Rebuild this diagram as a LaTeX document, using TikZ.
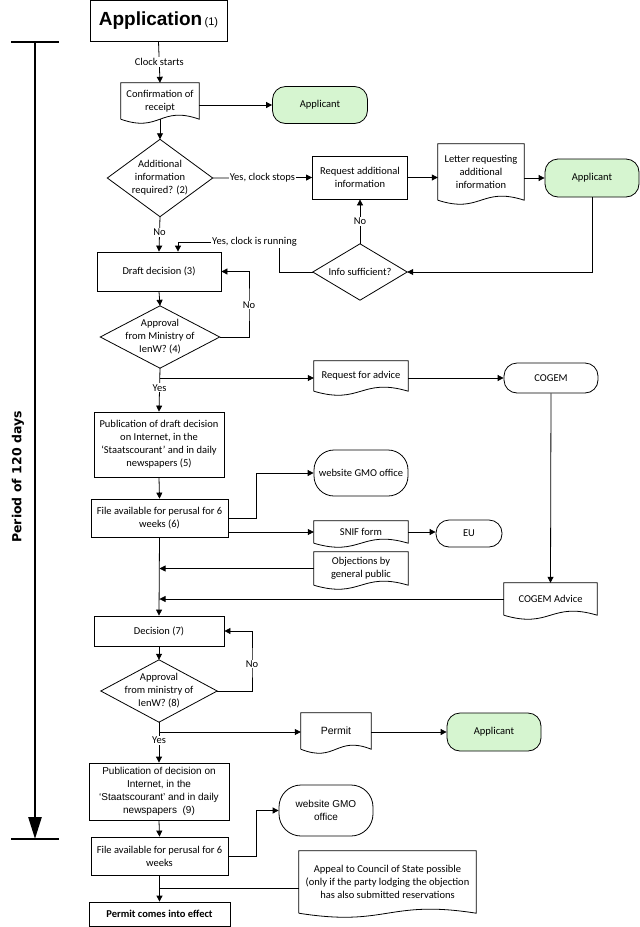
\documentclass[tikz,border=0pt]{standalone}
\usepackage{fontspec}
\setmainfont{Carlito}
\newfontfamily\arialf{Liberation Sans}
\newfontfamily\dejaf{DejaVu Sans}
\usetikzlibrary{arrows.meta,calc}
\definecolor{appgreen}{RGB}{214,245,208}
\newcommand\wdoc[1]{\draw[line width=0.8pt] (#1.south west) -- (#1.north west) -- (#1.north east) -- (#1.south east) .. controls ($(#1.south)+(0,-14)$) and ($(#1.south)+(0,14)$) .. (#1.south west);}
\newcommand\wdia[1]{\draw[line width=0.8pt] (#1.north) -- (#1.east) -- (#1.south) -- (#1.west) -- cycle;}
\begin{document}
\begin{tikzpicture}[x=1pt,y=-1pt,
  every node/.style={font=\fontsize{10.5}{13}\selectfont, align=center, inner sep=1pt},
  box/.style={draw, line width=0.8pt, minimum width=#1},
  term/.style={draw, line width=0.8pt, rounded corners=13pt},
  green/.style={fill=appgreen},
  plain/.style={draw=none},
  ar/.style={line width=0.8pt, -{Triangle[length=6pt,width=6pt]}},
  ln/.style={line width=0.8pt},
  lab/.style={fill=white, inner sep=1pt}]
\path[use as bounding box] (0,0) rectangle (640,927);
% period bar
\coordinate (bt) at (35,42); \coordinate (bb) at (35,839);
\draw[line width=2.5pt] (11,42) -- (59,42);
\draw[line width=2.5pt] (11,839) -- (59,839);
\draw[line width=2.5pt, -{Triangle[length=22pt,width=13pt]}] (bt) -- (bb);
\node[rotate=90, font=\dejaf\bfseries\fontsize{12.5}{14}\selectfont] (per) at (18,477) {Period of 120 days};
% nodes
\node[box, minimum width=137pt, minimum height=41pt] (app) at (158.5,20.5) {{\arialf\bfseries\fontsize{19}{22}\selectfont Application} {\arialf\fontsize{11}{13}\selectfont(1)}};
\node[plain, minimum width=78pt, minimum height=36pt] (conf) at (160,101) {Confirmation of\\receipt}; \wdoc{conf}
\node[term, green, minimum width=95pt, minimum height=37pt] (ap1) at (320,105) {Applicant};
\node[plain, minimum width=105pt, minimum height=77pt] (d1) at (160,178) {Additional\\information\\required? (2)}; \wdia{d1}
\node[box=95pt, minimum height=43pt] (req) at (360,177.5) {Request additional\\information};
\node[plain, minimum width=86pt, minimum height=56pt] (let) at (481,172) {Letter requesting\\additional\\information}; \wdoc{let}
\node[term, green, minimum width=94pt, minimum height=38pt] (ap2) at (592,178) {Applicant};
\node[plain, minimum width=94pt, minimum height=56pt] (info) at (360,272) {Info sufficient?}; \wdia{info}
\node[box=124pt, minimum height=39pt] (draft) at (159,271.5) {Draft decision (3)};
\node[plain, minimum width=119pt, minimum height=62pt] (d2) at (160,337) {Approval\\from Ministry of\\IenW? (4)}; \wdia{d2}
\node[plain, minimum width=94pt, minimum height=30pt] (rfa) at (361,376) {Request for advice}; \wdoc{rfa}
\node[term, minimum width=94pt, minimum height=30pt] (cog) at (551,378) {COGEM};
\node[box=130pt, minimum height=65pt] (pub1) at (159,444.5) {Publication of draft decision\\on Internet, in the\\‘Staatscourant’ and in daily\\newspapers (5)};
\node[box=137pt, minimum height=38pt] (file1) at (159.5,518) {File available for perusal for 6\\weeks (6)};
\node[term, rounded corners=20pt, minimum width=94pt, minimum height=46pt] (web1) at (361,473) {website GMO office};
\node[plain, minimum width=94pt, minimum height=22pt] (snif) at (361,532) {SNIF form}; \wdoc{snif}
\node[term, minimum width=66pt, minimum height=27pt] (eu) at (469,533.5) {EU};
\node[plain, minimum width=94pt, minimum height=33pt] (obj) at (361,568.5) {Objections by\\general public}; \wdoc{obj}
\node[plain, minimum width=93pt, minimum height=32pt] (cadv) at (550.5,599) {COGEM Advice}; \wdoc{cadv}
\node[box=130pt, minimum height=30pt] (dec) at (159,631) {Decision (7)};
\node[plain, minimum width=116pt, minimum height=62pt] (d3) at (159,691) {Approval\\from ministry of\\IenW? (8)}; \wdia{d3}
\node[plain, minimum width=70pt, minimum height=36pt, font=\arialf\fontsize{10.5}{13}\selectfont] (perm) at (336,731) {Permit}; \wdoc{perm}
\node[term, green, minimum width=94pt, minimum height=38pt] (ap3) at (494,732) {Applicant};
\node[box=140pt, minimum height=57pt, font=\arialf\fontsize{10}{13}\selectfont] (pub2) at (159,791.5) {Publication of decision on\\Internet, in the\\‘Staatscourant’ and in daily\\newspapers~~(9)};
\node[box=137pt, minimum height=38pt] (file2) at (159.5,856) {File available for perusal for 6\\weeks};
\node[term, rounded corners=22pt, minimum width=94pt, minimum height=51pt, font=\arialf\fontsize{10}{13}\selectfont] (web2) at (326,810.5) {website GMO\\office};
\node[plain, minimum width=177pt, minimum height=62pt] (appeal) at (387.5,882) {Appeal to Council of State possible\\(only if the party lodging the objection\\has also submitted reservations}; \wdoc{appeal}
\node[box=141pt, minimum height=24pt, font=\bfseries\fontsize{10.5}{13}\selectfont] (pce) at (159.5,914) {Permit comes into effect};
% coordinates
\coordinate (yc) at (178,242);
\coordinate (n2) at (249,305);
\coordinate (yb1) at (160,378);
\coordinate (k1) at (256,518);
\coordinate (n3) at (252,664);
\coordinate (yb2) at (160,732);
\coordinate (k2) at (256,856);
% connectors
\draw[ar] (app.south) -- node[lab] {Clock starts} (conf.north);
\draw[ar] (ap1.west -| conf.east) -- (ap1.west);
\draw[ar] (conf.south) -- (d1.north);
\draw[ar] (d1.east) -- node[lab] {Yes, clock stops} (req.west);
\draw[ar] (req.east) -- (req.east -| let.west);
\draw[ar] (ap2.west -| let.east) -- (ap2.west);
\draw[ar] (ap2.south) |- (info.east);
\draw[ar] (info.north) -- node[lab] {No} (req.south);
\draw[ln] (info.west) -- (279,272) |- (yc);
\draw[ar] (yc) -- (yc |- draft.north);
\node[lab, anchor=west] (ycl) at (211,242) {Yes, clock is running};
\draw[ar] (d1.south) -- node[lab, pos=0.45] {No} (draft.north);
\draw[ar] (draft.south) -- (d2.north);
\draw[ar] (d2.east) -| (n2) |- (draft.east);
\node[lab] (n2l) at (n2) {No};
\draw[ar] (d2.south) -- node[lab, pos=0.45] {Yes} (pub1.north);
\draw[ar] (yb1) -- (yb1 -| rfa.west);
\draw[ar] (cog.west -| rfa.east) -- (cog.west);
\draw[ar] (cog.south) -- (cadv.north);
\draw[ar] (pub1.south) -- (file1.north);
\draw[ar] (file1.east) -- (k1) |- (web1.west);
\draw[ar] (file1.east |- snif.west) -- (snif.west);
\draw[ar] (snif.east) -- (snif.east -| eu.west);
\draw[ar] (obj.west) -- (obj.west -| file1.south);
\draw[ar] (cadv.west) -- (cadv.west -| file1.south);
\draw[ar] (file1.south) -- (dec.north);
\draw[ar] (dec.south) -- (d3.north);
\draw[ar] (d3.east) -| (n3) |- (dec.east);
\node[lab] (n3l) at (n3) {No};
\draw[ar] (d3.south) -- node[lab, pos=0.45] {Yes} (pub2.north);
\draw[ar] (yb2) -- (yb2 -| perm.west);
\draw[ar] (ap3.west -| perm.east) -- (ap3.west);
\draw[ar] (pub2.south) -- (file2.north);
\draw[ar] (file2.east) -- (k2) |- (web2.west);
\draw[ar] (file2.south) -- (pce.north);
\draw[ln] ($(appeal.west)+(0,6)$) -- ($(appeal.west -| file2.south)+(0,6)$);
\end{tikzpicture}
\end{document}
